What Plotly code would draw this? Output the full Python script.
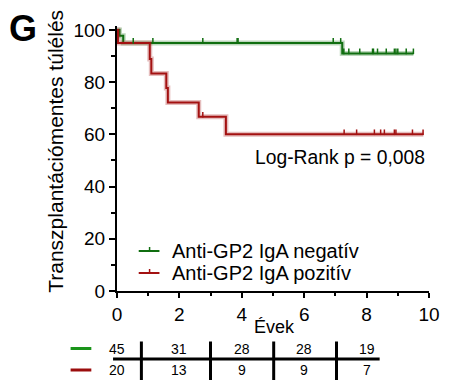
import plotly.graph_objects as go

# Kaplan-Meier step curves (time in years, survival in %)
neg_time = [0, 0.08, 0.2, 7.22, 9.5]
neg_surv = [100, 97.8, 95, 91, 91]
pos_time = [0, 0.03, 1.05, 1.1, 1.58, 1.63, 2.62, 3.49, 9.82]
pos_surv = [100, 95, 88.9, 83.3, 77.8, 72.2, 66.7, 60, 60]

# censored observations
neg_cens_time = [0.52, 1.15, 2.75, 3.85, 3.88, 6.93, 7.17,
                 7.27, 7.43, 7.78, 8.19, 8.22, 8.35, 8.63, 8.89, 8.94, 9.0, 9.27, 9.5]
neg_cens_surv = [95] * 7 + [91] * 12
pos_cens_time = [2.75, 7.28, 7.68, 8.25, 8.45, 8.57, 8.89, 8.94, 9.47, 9.81]
pos_cens_surv = [66.7] + [60] * 9

# number at risk
risk_times = [0, 2, 4, 6, 8]
risk_neg = [45, 31, 28, 28, 19]
risk_pos = [20, 13, 9, 9, 7]

labels = ["Anti-GP2 IgA negatív", "Anti-GP2 IgA pozitív"]
GREEN = "#106e10"
RED = "#a31111"
GREEN_HALO = "rgba(16,110,16,0.28)"
RED_HALO = "rgba(163,17,17,0.28)"
FONT = "Liberation Sans, Arial, sans-serif"

W, H = 452, 380
ML, MR, MT, MB = 117, 19, 26, 89
PW, PH = W - ML - MR, H - MT - MB


def px(x):
    return (x - ML) / PW


def py(y):
    return (H - MB - y) / PH


fig = go.Figure()

for t, s, c, halo in [(neg_time, neg_surv, GREEN, GREEN_HALO),
                      (pos_time, pos_surv, RED, RED_HALO)]:
    fig.add_trace(go.Scatter(x=t, y=s, mode="lines", line=dict(color=halo, width=5, shape="hv"),
                             hoverinfo="skip", showlegend=False))
    fig.add_trace(go.Scatter(x=t, y=s, mode="lines", line=dict(color=c, width=2, shape="hv"),
                             showlegend=False))

tick_off = 0.8
for t, s, c in [(neg_cens_time, neg_cens_surv, GREEN), (pos_cens_time, pos_cens_surv, RED)]:
    fig.add_trace(go.Scatter(x=t, y=[v + tick_off for v in s], mode="markers",
                             marker=dict(symbol="line-ns", size=4, line=dict(color=c, width=1.5)),
                             showlegend=False))

shapes = []
annotations = []

# in-plot legend
for i, (lab, c) in enumerate(zip(labels, [GREEN, RED])):
    yy = 251 + 22 * i
    shapes.append(dict(type="line", xref="paper", yref="paper", x0=px(139), x1=px(160),
                       y0=py(yy), y1=py(yy), line=dict(color=c, width=2)))
    shapes.append(dict(type="line", xref="paper", yref="paper", x0=px(150), x1=px(150),
                       y0=py(yy), y1=py(yy - 4), line=dict(color=c, width=1.5)))
    annotations.append(dict(text=lab, xref="paper", yref="paper", x=px(171), y=py(yy),
                            xanchor="left", yanchor="middle", showarrow=False,
                            font=dict(size=20, color="black", family=FONT)))

annotations.append(dict(text="Log-Rank p = 0,008", xref="paper", yref="paper",
                        x=px(343), y=py(157), xanchor="center", yanchor="middle",
                        showarrow=False, font=dict(size=19.3, color="black", family=FONT)))

annotations.append(dict(text="Transzplantációmentes túlélés", xref="paper", yref="paper",
                        x=px(54), y=py(151), textangle=-90, xanchor="center", yanchor="middle",
                        showarrow=False, font=dict(size=21, color="black", family=FONT)))

annotations.append(dict(text="<b>G</b>", xref="paper", yref="paper", x=px(22), y=py(28),
                        xanchor="center", yanchor="middle", showarrow=False,
                        font=dict(size=36, color="black", family=FONT)))

annotations.append(dict(text="Évek", xref="paper", yref="paper", x=px(277), y=py(327),
                        xanchor="center", yanchor="middle", showarrow=False,
                        font=dict(size=18, color="black", family=FONT)))

# number-at-risk table
for row, (vals, c) in enumerate([(risk_neg, "#1a941a"), (risk_pos, "#9b0d0d")]):
    yy = 348.5 + 21.5 * row
    shapes.append(dict(type="line", xref="paper", yref="paper", x0=px(70), x1=px(91),
                       y0=py(yy), y1=py(yy), line=dict(color=c, width=3)))
    for t, v in zip(risk_times, vals):
        annotations.append(dict(text=str(v), xref="x", yref="paper", x=t, y=py(yy),
                                xanchor="center", yanchor="middle", showarrow=False,
                                borderpad=0,
                                font=dict(size=14, color="black", family=FONT)))

shapes.append(dict(type="line", xref="paper", yref="paper", x0=px(113), x1=px(383),
                   y0=py(359), y1=py(359), line=dict(color="black", width=3)))
for sx in [141.7, 211.7, 275.7, 339.3]:
    shapes.append(dict(type="line", xref="paper", yref="paper", x0=px(sx), x1=px(sx),
                       y0=py(341.5), y1=py(385), line=dict(color="black", width=3)))

axis_common = dict(showline=True, linecolor="black", linewidth=2, ticks="outside",
                   tickwidth=2, tickcolor="black", showgrid=False, zeroline=False,
                   tickfont=dict(size=19, color="black", family=FONT))

fig.update_layout(
    width=W, height=H,
    margin=dict(l=ML, r=MR, t=MT, b=MB),
    plot_bgcolor="white", paper_bgcolor="white",
    xaxis=dict(range=[0, 10], tickvals=[0, 2, 4, 6, 8, 10], ticklen=5,
               minor=dict(tickvals=[1, 3, 5, 7, 9], ticks="outside", ticklen=3, tickwidth=2,
                          tickcolor="black"),
               **axis_common),
    yaxis=dict(range=[0, 101.5], tickvals=[0, 20, 40, 60, 80, 100], ticklen=6,
               minor=dict(tickvals=[10, 30, 50, 70, 90], ticks="outside", ticklen=4, tickwidth=2,
                          tickcolor="black"),
               **axis_common),
    shapes=shapes,
    annotations=annotations,
    showlegend=False,
)

fig.write_html("out.html")
